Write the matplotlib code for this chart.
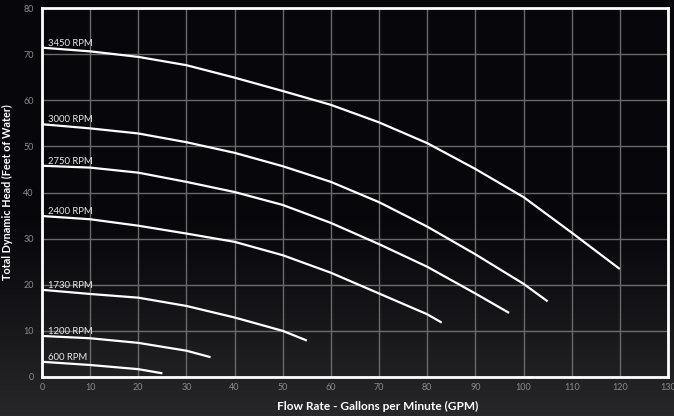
import numpy as np
import matplotlib
matplotlib.use("Agg")
import matplotlib.pyplot as plt

# ---- data ----
rpm_labels = ["3450 RPM", "3000 RPM", "2750 RPM", "2400 RPM", "1730 RPM", "1200 RPM", "600 RPM"]

flow_3450 = [0, 10, 20, 30, 40, 50, 60, 70, 80, 90, 100, 110, 120]
head_3450 = [71.4, 70.6, 69.4, 67.6, 64.9, 62.0, 59.0, 55.2, 50.7, 45.1, 39.0, 31.3, 23.4]

flow_3000 = [0, 10, 20, 30, 40, 50, 60, 70, 80, 90, 100, 105]
head_3000 = [54.8, 53.9, 52.8, 50.9, 48.6, 45.7, 42.3, 37.9, 32.6, 26.6, 20.2, 16.4]

flow_2750 = [0, 10, 20, 30, 40, 50, 60, 70, 80, 90, 97]
head_2750 = [45.8, 45.4, 44.3, 42.3, 40.1, 37.3, 33.4, 28.8, 23.9, 18.1, 13.9]

flow_2400 = [0, 10, 20, 30, 40, 50, 60, 70, 80, 83]
head_2400 = [34.9, 34.2, 32.8, 31.1, 29.3, 26.4, 22.6, 18.1, 13.6, 11.8]

flow_1730 = [0, 10, 20, 30, 40, 50, 55]
head_1730 = [18.9, 18.0, 17.2, 15.4, 12.9, 10.0, 7.9]

flow_1200 = [0, 10, 20, 30, 35]
head_1200 = [8.9, 8.4, 7.4, 5.7, 4.3]

flow_600 = [0, 10, 20, 25]
head_600 = [3.3, 2.6, 1.7, 0.8]

x_ticks = list(range(0, 131, 10))
y_ticks = list(range(0, 81, 10))

series = [
    (flow_3450, head_3450),
    (flow_3000, head_3000),
    (flow_2750, head_2750),
    (flow_2400, head_2400),
    (flow_1730, head_1730),
    (flow_1200, head_1200),
    (flow_600, head_600),
]

# ---- figure ----
W, H = 674, 416
fig = plt.figure(figsize=(W / 100, H / 100), dpi=100)

# background gradient (dark top, lighter textured-looking bottom)
bg = fig.add_axes([0, 0, 1, 1], zorder=-10)
t = np.linspace(0, 1, 416)[:, None]
top = np.array([6, 6, 11]) / 255.0
bot = np.array([40, 40, 42]) / 255.0
w = np.clip((t - 0.5) / 0.5, 0, 1) ** 1.2
grad = top[None, None, :] * (1 - w[..., None]) + bot[None, None, :] * w[..., None]
grad = np.repeat(grad, 2, axis=1)
bg.imshow(grad, aspect="auto", extent=[0, 1, 0, 1], origin="upper")
bg.axis("off")

ax = fig.add_axes([42 / W, (H - 377) / H, 626 / W, 369 / H])
ax.set_facecolor("none")

for (xs, ys), lab in zip(series, rpm_labels):
    ax.plot(xs, ys, color="white", lw=1.6, solid_capstyle="butt", zorder=3)
    ax.text(1.3, ys[0] + 0.45, lab, color="#e8e8e8", fontsize=6.8,
            family="Lato", va="baseline", ha="left", zorder=4)

ax.set_xlim(0, 130)
ax.set_ylim(0, 80)
ax.set_xticks(x_ticks)
ax.set_yticks(y_ticks)
ax.grid(True, color="#6a6a6a", lw=1.0, zorder=1)
ax.set_axisbelow(True)
for s in ax.spines.values():
    s.set_color("white")
    s.set_linewidth(2)
    s.set_zorder(5)
ax.tick_params(axis="x", length=0, colors="#8a8a8a", labelsize=6.5, pad=4)
ax.tick_params(axis="y", length=0, colors="#8a8a8a", labelsize=6.5, pad=6)
for lbl in ax.get_xticklabels() + ax.get_yticklabels():
    lbl.set_family("Lato")

ax.set_xlabel("Flow Rate - Gallons per Minute (GPM)", color="white",
              fontsize=8.6, fontweight="bold", family="Lato")
ax.xaxis.set_label_coords(0.537, -0.066)
ax.set_ylabel("Total Dynamic Head (Feet of Water)", color="white",
              fontsize=7.8, fontweight="bold", family="Lato")
ax.yaxis.set_label_coords(-0.046, 0.5)

fig.savefig("out.png", dpi=100, facecolor="#060609")
